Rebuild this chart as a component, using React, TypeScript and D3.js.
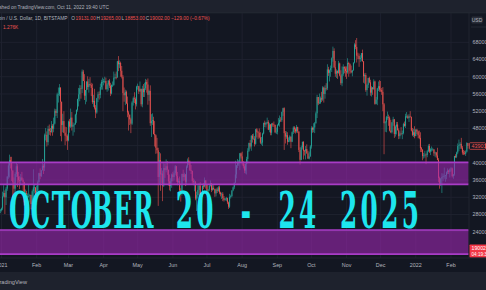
import React from "react";
import * as d3 from "d3";

const W = 486;
const H = 290;

// Daily BTC/USD candles (prices in thousands USD). Each group starts at the date in groupStarts.
const groupStarts = [
  "2020-12-31", "2021-01-01", "2021-02-01", "2021-03-01", "2021-04-01", "2021-05-01", "2021-06-01",
  "2021-07-01", "2021-08-01", "2021-09-01", "2021-10-01", "2021-11-01", "2021-12-01", "2022-01-01", "2022-02-01",
];
const firstOpen = 28.9;

const closes = [
  [29.0],
  [29.4,32.2,33.0,32.0,34.0,36.8,39.4,40.6,40.2,38.2,35.5,34.0,37.4,39.2,36.8,36.0,35.8,36.6,36.0,35.5,30.8,33.0,32.1,32.3,32.3,32.5,30.4,33.4,34.3,34.3,33.1],
  [33.5,35.5,37.6,36.9,38.3,39.3,38.9,46.4,46.5,44.8,47.9,47.4,47.2,48.6,47.9,49.1,52.1,51.6,55.9,55.9,57.5,54.2,48.8,49.7,47.0,46.3,46.2,45.2],
  [49.6,48.4,50.5,48.4,48.8,48.9,51.2,52.3,54.8,55.9,57.3,57.2,61.2,59.0,55.6,56.9,58.9,57.6,58.3,58.1,57.4,54.1,54.4,52.8,51.7,55.0,55.9,55.8,57.6,58.8,58.8],
  [59.0,59.0,57.1,58.2,59.1,57.9,56.1,58.1,58.1,59.8,59.9,59.8,63.6,62.9,63.2,61.4,60.0,56.2,55.7,56.5,53.8,51.7,51.2,50.1,49.1,54.0,55.0,54.8,53.6,57.7],
  [57.8,56.6,57.2,53.6,57.2,56.4,57.3,58.8,58.2,55.8,56.7,49.2,49.7,49.9,46.7,46.4,43.5,42.9,36.7,40.6,37.3,37.5,34.7,38.8,38.3,39.2,38.4,35.7,34.6,35.7,37.3],
  [36.7,37.6,39.2,36.9,35.5,35.8,33.6,33.4,37.4,36.7,37.3,35.6,39.1,40.5,40.2,38.3,38.1,35.8,35.5,35.6,31.7,32.5,33.7,34.7,31.6,32.2,34.7,34.5,35.9,35.0],
  [33.5,33.8,34.7,35.3,33.7,34.2,33.9,32.9,33.8,33.5,34.3,33.1,32.7,32.8,31.8,31.4,31.5,31.8,30.8,29.8,32.1,32.3,33.6,34.3,35.4,37.3,39.4,40.0,40.0,42.2,41.5],
  [39.9,39.2,38.2,39.7,40.9,42.8,44.6,43.8,46.3,45.6,45.6,44.4,47.8,47.1,47.0,45.9,44.7,44.7,46.8,49.3,48.9,49.3,49.5,47.7,48.9,47.0,49.1,48.9,48.8,47.1,47.2],
  [48.8,49.3,50.0,49.9,51.8,52.7,46.9,46.1,46.4,44.9,45.2,46.1,44.9,47.1,48.2,47.8,47.3,48.3,47.3,43.0,40.7,43.6,44.9,42.8,42.7,43.2,42.2,41.0,41.5,43.8],
  [48.1,47.7,48.2,49.2,51.5,55.3,53.8,54.0,55.0,54.7,57.5,56.0,57.4,57.3,61.7,60.9,61.5,62.0,64.3,66.0,62.2,60.7,61.3,60.9,63.1,60.3,58.5,60.6,62.3,61.9,61.3],
  [61.0,63.2,62.9,61.4,61.0,61.5,63.3,67.5,66.9,64.9,64.8,64.1,64.4,65.5,63.6,60.1,60.4,56.9,58.1,59.7,58.7,56.3,57.5,57.1,58.9,53.7,54.7,57.3,57.8,57.0],
  [56.9,56.5,53.6,49.2,49.4,50.6,50.6,50.5,47.5,47.1,49.4,50.1,46.7,48.4,48.9,47.6,46.2,46.8,46.7,46.9,49.0,48.6,50.8,50.8,50.4,50.8,50.7,47.5,46.5,47.1,46.2],
  [47.7,47.3,46.4,45.8,43.4,43.1,41.6,41.7,41.9,41.8,42.7,43.9,42.6,43.1,43.1,43.1,42.2,42.4,41.7,40.7,36.5,35.1,36.3,36.7,36.9,37.0,37.1,37.8,38.2,37.9,38.5],
  [38.7,36.9,37.3,41.6,41.4,42.4,43.9,44.1,44.4,43.5,42.4,42.2,42.1,42.6,44.6,43.9],
];

const highs = [
  [29.3],
  [29.6,33.3,34.8,33.6,34.4,36.9,40.2,41.9,41.4,41.4,38.3,36.6,37.8,40.0,39.7,37.9,36.9,37.4,37.9,36.4,35.6,33.8,33.5,32.9,34.9,32.8,32.6,33.8,38.5,34.9,34.3],
  [34.7,35.9,37.7,38.7,38.3,40.9,39.7,46.8,48.1,47.3,48.6,48.9,48.1,49.7,49.0,50.5,52.6,52.5,56.3,57.5,58.3,57.5,54.2,51.4,52.0,48.4,48.3,46.6],
  [49.8,50.2,52.6,51.8,49.4,49.2,51.4,52.4,54.9,57.4,58.1,58.0,61.7,61.6,60.6,56.9,58.9,60.1,59.5,59.9,58.6,58.4,55.8,57.2,53.4,55.1,56.5,56.6,58.4,59.3,59.8],
  [59.5,60.0,59.8,58.5,59.2,59.5,58.6,58.2,58.9,61.2,60.7,61.2,63.7,64.8,63.8,63.5,62.5,60.4,57.5,57.0,56.8,55.4,52.1,51.2,50.5,54.3,55.4,56.4,55.2,57.9],
  [58.4,57.9,58.9,57.1,57.9,58.3,58.6,59.5,59.3,59.6,57.0,58.0,51.3,51.5,50.7,49.7,46.6,45.8,43.5,42.5,42.2,38.8,38.2,39.9,39.8,40.8,40.4,38.2,37.3,36.4,37.5],
  [37.9,38.2,39.5,39.3,37.9,36.4,36.8,34.1,37.5,38.4,37.7,37.4,39.4,41.0,41.3,40.5,39.5,38.2,36.4,36.1,35.8,33.3,34.8,35.3,35.5,32.7,34.7,35.3,36.6,36.0],
  [35.0,33.9,34.9,35.9,35.3,35.0,34.8,33.9,34.1,34.3,34.6,34.7,33.3,33.1,33.2,32.3,31.9,32.1,31.9,31.0,32.8,32.6,33.6,34.5,35.4,40.5,39.5,40.9,40.6,42.3,42.4],
  [42.6,40.4,39.8,39.9,41.4,43.4,44.7,45.3,46.4,46.7,46.8,46.2,47.9,48.1,47.4,48.0,47.1,46.0,47.0,49.3,49.8,49.5,50.5,49.9,49.3,49.0,49.2,49.3,49.6,48.9,48.2],
  [49.0,50.4,51.0,50.6,51.9,52.8,52.9,47.4,47.3,47.1,45.9,46.4,46.0,47.3,48.5,48.5,48.2,48.8,48.4,47.3,43.6,44.0,44.9,45.0,43.0,43.9,44.3,42.8,42.6,44.1],
  [48.5,48.4,49.2,49.5,51.9,55.8,55.3,56.1,55.4,56.5,57.8,57.7,58.0,58.5,62.9,62.3,61.7,62.6,64.5,67.0,66.6,63.7,61.7,61.5,63.7,63.3,61.5,62.4,62.9,62.4,62.4],
  [62.4,64.3,63.5,63.1,62.6,61.6,63.3,67.8,68.5,69.0,65.6,65.4,65.0,65.5,66.3,63.6,60.8,60.9,58.4,59.8,60.0,59.3,57.8,57.6,59.4,59.1,55.3,57.4,58.9,59.2],
  [59.0,57.4,57.6,53.9,49.7,50.9,51.9,51.2,50.8,50.0,49.5,50.7,50.2,48.7,49.5,49.5,48.0,47.3,48.3,47.5,49.3,49.6,51.4,51.8,51.2,51.3,52.0,50.7,48.1,47.9,48.5],
  [47.9,47.9,47.5,47.5,47.1,43.7,43.1,42.3,42.8,42.2,43.0,44.3,44.4,43.4,43.8,43.5,43.2,42.6,42.5,43.5,41.1,36.8,36.5,37.6,37.5,38.9,37.2,38.0,38.7,38.4,38.7],
  [39.0,38.9,37.4,41.6,42.0,42.6,44.5,45.4,44.8,45.8,43.9,43.0,42.8,42.9,44.8,44.6],
];

const lows = [
  [28.3],
  [28.7,29.0,32.0,28.1,30.2,33.5,36.3,36.6,38.7,35.8,30.4,32.5,32.4,36.7,34.4,35.4,33.9,34.8,35.8,33.4,30.1,28.9,31.4,31.1,31.9,30.8,29.2,29.9,31.9,32.9,32.1],
  [32.3,33.4,35.4,36.2,36.7,38.2,37.4,38.1,45.2,43.8,44.1,46.5,46.3,47.0,46.3,47.1,48.9,50.9,50.4,54.0,55.5,46.2,45.0,47.1,46.9,44.1,45.0,43.0],
  [45.0,47.0,48.1,47.5,46.3,47.1,48.9,49.3,51.9,53.1,54.3,54.9,56.2,59.0,54.6,53.6,54.2,57.0,56.3,57.9,55.5,53.7,53.0,52.4,50.4,51.4,54.1,54.7,55.0,57.0,57.0],
  [58.0,58.5,57.0,56.5,56.8,57.4,55.5,55.9,57.6,57.9,59.4,59.4,59.8,61.3,62.0,60.0,59.6,52.0,54.2,53.4,53.7,50.6,47.5,48.8,46.9,48.8,53.3,53.9,52.4,53.1],
  [57.0,56.0,56.5,53.1,52.9,55.3,55.3,56.9,56.3,53.5,54.4,48.6,46.0,48.8,46.6,43.8,42.1,42.2,30.0,35.0,33.5,35.3,31.1,34.4,36.5,37.8,37.2,34.7,33.6,33.4,34.2],
  [35.7,35.9,37.2,35.6,34.8,35.3,33.4,31.0,32.4,35.8,35.9,34.6,34.8,38.8,39.5,38.1,37.4,35.2,34.8,33.4,31.3,28.8,31.7,32.4,31.3,30.2,32.0,33.9,34.3,34.0],
  [32.7,32.7,33.4,34.5,33.2,33.5,33.7,32.1,32.2,33.0,33.3,32.7,32.2,31.6,31.1,31.0,31.2,31.1,30.4,29.3,29.5,31.7,32.0,33.4,33.9,35.3,36.4,38.8,39.3,38.3,41.0],
  [39.4,38.7,37.6,37.5,37.3,39.9,42.5,43.3,42.8,44.7,45.4,43.8,44.2,45.9,45.5,45.7,44.4,44.2,43.9,46.6,48.3,48.2,49.0,47.6,47.1,46.4,46.4,48.4,48.3,46.9,46.7],
  [46.6,48.6,48.4,49.5,49.5,50.9,43.0,44.5,45.6,44.2,44.8,44.8,43.4,44.8,46.7,47.0,46.8,47.0,46.9,42.5,39.6,40.6,43.1,40.8,41.7,40.8,42.1,40.9,40.8,41.4],
  [43.3,47.0,47.1,46.9,49.1,50.4,53.4,53.7,53.7,54.1,54.4,54.0,54.9,56.8,56.9,60.2,58.9,60.0,61.1,63.5,62.0,60.0,59.7,59.5,60.7,60.1,58.1,57.8,60.2,60.8,60.0],
  [59.5,60.7,60.0,60.7,60.8,60.1,61.4,63.1,66.4,63.3,64.1,62.3,63.4,63.6,63.5,58.6,58.4,56.5,55.6,57.4,58.5,55.6,55.4,55.8,57.0,53.5,53.6,53.4,56.7,56.5],
  [56.5,55.8,52.0,42.0,47.2,47.1,50.0,48.6,47.3,46.9,46.8,48.6,45.8,46.1,46.6,47.5,45.5,45.6,46.4,45.5,46.6,48.4,48.1,50.4,50.2,49.5,50.5,47.3,46.2,46.0,45.7],
  [46.2,46.7,45.7,45.5,42.5,42.5,40.6,41.0,41.2,39.7,41.3,42.5,42.3,41.8,42.6,42.7,41.6,41.3,41.2,40.6,35.5,34.0,34.6,33.0,35.8,36.3,35.6,36.2,37.4,37.4,36.6],
  [38.0,36.6,36.3,37.0,41.1,41.1,42.0,42.7,43.2,43.2,41.9,41.8,41.9,41.6,42.4,43.3],
];

const priceTicks = [68000, 64000, 60000, 56000, 52000, 48000, 44000, 40000, 36000, 32000, 28000, 24000];
const monthLabels = ["2021", "Feb", "Mar", "Apr", "May", "Jun", "Jul", "Aug", "Sep", "Oct", "Nov", "Dec", "2022", "Feb"];
const zones = [
  { top: 40100, bottom: 35000 },
  { top: 24400, bottom: 18800 },
];
const headline = "OCTOBER 20 - 24 2025";
const lastPrice = "43901";
const closePrice = "19002";
// legend pieces: text, colour key ("t" = grey, "r" = red), screen x where it starts
const legendPieces = [
  { s: "Bitcoin / U.S. Dollar, 1D, BITSTAMP", c: "t", x: -9.5 },
  { s: "O", c: "t", x: 71.2 },
  { s: "19131.00", c: "r", x: 75.6 },
  { s: "H", c: "t", x: 96.6 },
  { s: "19265.00", c: "r", x: 100.5 },
  { s: "L", c: "t", x: 121.6 },
  { s: "18853.00", c: "r", x: 124.8 },
  { s: "C", c: "t", x: 145.8 },
  { s: "19002.00", c: "r", x: 149.6 },
  { s: "−129.00 (−0.67%)", c: "r", x: 171.0 },
];
const volPieces = [
  { s: "Vol", c: "t", x: -8.5 },
  { s: "1.276K", c: "r", x: 3 },
];

const BG = "#131722";
const BAR = "#1e222d";
const GRID = "#1f2330";
const TXT = "#b2b5be";
const UP = "#26a69a";
const DOWN = "#ef5350";

type Candle = { date: Date; o: number; h: number; l: number; c: number };

function buildCandles(): Candle[] {
  const out: Candle[] = [];
  let prev = firstOpen;
  groupStarts.forEach((s, g) => {
    const start = new Date(s + "T00:00:00Z");
    closes[g].forEach((c, i) => {
      const o = prev;
      const h = Math.max(highs[g][i], o, c);
      const l = Math.min(lows[g][i], o, c);
      out.push({ date: d3.utcDay.offset(start, i), o, h, l, c });
      prev = c;
    });
  });
  return out;
}

export default function App() {
  const candles = buildCandles();
  const plotRight = 469;
  const plotTop = 13;
  const plotBottom = 258;

  const x = d3
    .scaleUtc()
    .domain([new Date(Date.UTC(2021, 0, 1)), new Date(Date.UTC(2022, 1, 1))])
    .range([1.5, 451]);
  const y = d3.scaleLinear().domain([24000, 68000]).range([231.7, 42.3]);
  const yk = (v: number) => y(v * 1000);

  const monthDates = d3.utcMonth.range(new Date(Date.UTC(2021, 0, 1)), new Date(Date.UTC(2022, 2, 1)));

  // headline: one monospace cell per character, condensed serif glyphs
  const cellW = 20.55;
  const x0 = 9.6;
  const sx = 0.5;
  const hfs = 49.5;
  const chars = headline.split("").map((ch, i) => ({ ch, cx: x0 + (i + 0.5) * cellW })).filter((d) => d.ch !== " ");

  const legendFs = 5.6;
  const lsx = 0.865; // horizontal condensing of the small legend type

  return (
    <svg
      width={W}
      height={H}
      viewBox={`0 0 ${W} ${H}`}
      style={{ position: "absolute", left: 0, top: 0, display: "block" }}
      fontFamily="'Liberation Sans', Arial, sans-serif"
    >
      <defs>
        <clipPath id="plot">
          <rect x={0} y={plotTop} width={plotRight} height={plotBottom - plotTop} />
        </clipPath>
      </defs>
      <rect x={0} y={0} width={W} height={H} fill={BG} />
      {/* header */}
      <rect x={0} y={0} width={W} height={12.5} fill={BAR} />
      <line x1={0} x2={W} y1={12.8} y2={12.8} stroke="#2a2e39" strokeWidth={0.8} />
      <g transform={`scale(${lsx},1)`}>
        <text x={109 / lsx} y={8.6} fontSize={5.6} fill={TXT} textAnchor="end">
          Published on TradingView.com, Oct 11, 2022 19:40 UTC
        </text>
      </g>

      {/* grid */}
      <g clipPath="url(#plot)">
        {monthDates.map((d, i) => (
          <line key={"vg" + i} x1={x(d)} x2={x(d)} y1={plotTop} y2={plotBottom} stroke={GRID} strokeWidth={0.9} />
        ))}
        {priceTicks.map((p) => (
          <line key={"hg" + p} x1={0} x2={plotRight} y1={y(p)} y2={y(p)} stroke={GRID} strokeWidth={0.9} />
        ))}
        {/* candles */}
        {candles.map((k, i) => {
          const cx = x(k.date);
          const col = k.c >= k.o ? UP : DOWN;
          const yt = yk(Math.max(k.o, k.c));
          const yb = yk(Math.min(k.o, k.c));
          return (
            <g key={"c" + i} fill={col}>
              <rect x={cx - 0.3} width={0.6} y={yk(k.h)} height={Math.max(0.5, yk(k.l) - yk(k.h))} />
              <rect x={cx - 0.45} width={0.9} y={yt} height={Math.max(0.6, yb - yt)} />
            </g>
          );
        })}
        {/* zones */}
        {zones.map((z, i) => (
          <g key={"z" + i}>
            <rect x={-5} y={y(z.top)} width={plotRight + 5 - 0.5} height={y(z.bottom) - y(z.top)} fill="#9c27b0" fillOpacity={0.6} />
            <line x1={-5} x2={plotRight - 0.5} y1={y(z.top)} y2={y(z.top)} stroke="#a93cc6" strokeWidth={1.6} />
            <line x1={-5} x2={plotRight - 0.5} y1={y(z.bottom)} y2={y(z.bottom)} stroke="#a93cc6" strokeWidth={1.6} />
          </g>
        ))}
      </g>

      {/* headline */}
      <g transform={`translate(0,228.3) scale(${sx},1)`}>
        <text
          y={0}
          fontFamily="'DejaVu Serif', 'Liberation Serif', serif"
          fontWeight="bold"
          fontSize={hfs}
          fill="#1de6ee"
          textAnchor="middle"
        >
          {chars.map((d, i) => (
            <tspan key={i} x={d.cx / sx}>
              {d.ch}
            </tspan>
          ))}
        </text>
      </g>

      {/* legend */}
      <g transform={`scale(${lsx},1)`} fontSize={legendFs}>
        {legendPieces.map((p, i) => (
          <text key={"lg" + i} x={p.x / lsx} y={20} fill={p.c === "t" ? TXT : DOWN}>
            {p.s}
          </text>
        ))}
        {volPieces.map((p, i) => (
          <text key={"vl" + i} x={p.x / lsx} y={29} fill={p.c === "t" ? TXT : DOWN}>
            {p.s}
          </text>
        ))}
      </g>

      {/* price axis */}
      <line x1={plotRight} x2={plotRight} y1={plotTop} y2={plotBottom} stroke="#2a2e39" strokeWidth={0.6} />
      <rect x={471.5} y={16.5} width={11} height={7} rx={1} fill="#2a2e39" />
      <text x={477} y={21.8} fontSize={5} fill={TXT} textAnchor="middle">USD</text>
      <line x1={471} x2={W} y1={27} y2={27} stroke="#2a2e39" strokeWidth={0.8} />
      {priceTicks.map((p) => (
        <text key={"pt" + p} x={472.5} y={y(p) + 1.9} fontSize={5.4} fill={TXT}>
          {p}
        </text>
      ))}
      <rect x={469.5} y={y(43900) - 3.3} width={16} height={6.6} fill={BG} stroke={DOWN} strokeWidth={0.7} rx={0.8} />
      <text x={471.5} y={y(43900) + 1.9} fontSize={5.4} fill={DOWN}>{lastPrice}</text>
      <rect x={469.5} y={244.5} width={17} height={13} fill="#f23645" rx={0.8} />
      <text x={471.5} y={250.2} fontSize={5.2} fill="#ffffff">{closePrice}</text>
      <text x={471.5} y={256.2} fontSize={4.6} fill="#ffffff">04:19:32</text>

      {/* time axis */}
      <line x1={0} x2={W} y1={plotBottom} y2={plotBottom} stroke="#2a2e39" strokeWidth={0.6} />
      {monthDates.map((d, i) => (
        <text key={"mt" + i} x={x(d)} y={267} fontSize={5.4} fill={TXT} textAnchor="middle">
          {monthLabels[i]}
        </text>
      ))}

      {/* footer */}
      <rect x={0} y={272} width={W} height={H - 272} fill={BAR} />
      <text x={27} y={284} fontSize={5.6} fill={TXT} textAnchor="end">TradingView</text>
    </svg>
  );
}
